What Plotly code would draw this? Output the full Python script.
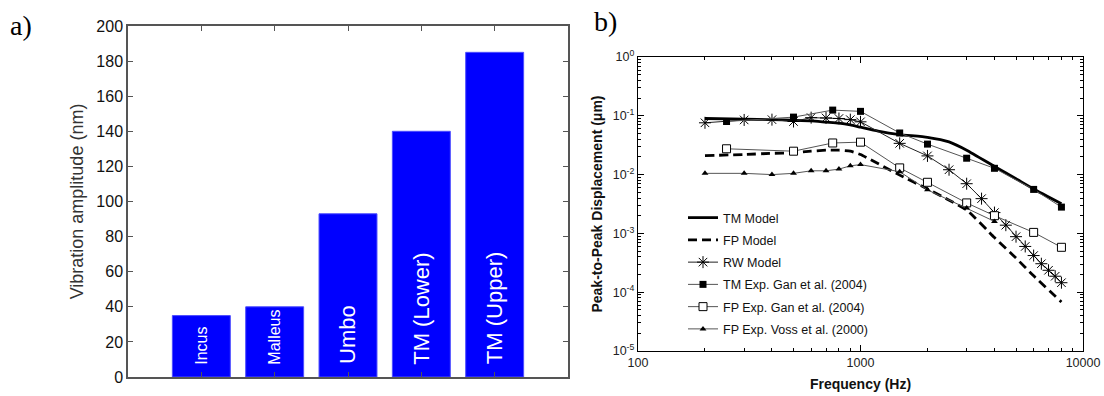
import plotly.graph_objects as go

# ---------------- data: panel a ----------------
categories = ["Incus", "Malleus", "Umbo", "TM (Lower)", "TM (Upper)"]
amplitude_nm = [35, 40, 93, 140, 185]
y_ticks_a = [0, 20, 40, 60, 80, 100, 120, 140, 160, 180, 200]

# ---------------- data: panel b ----------------
freq_tm_model = [200, 300, 400, 500, 600, 700, 800, 900, 1000, 1200, 1500, 2000, 2500, 3000, 4000, 5000, 6000, 8000]
disp_tm_model = [0.090, 0.088, 0.086, 0.084, 0.082, 0.078, 0.075, 0.070, 0.064, 0.055, 0.048, 0.043, 0.036, 0.026, 0.0138, 0.0085, 0.0057, 0.0032]

freq_fp_model = [200, 300, 400, 500, 600, 700, 800, 900, 1000, 1500, 2000, 3000, 4000, 5000, 6000, 8000]
disp_fp_model = [0.021, 0.022, 0.023, 0.0235, 0.025, 0.026, 0.026, 0.025, 0.022, 0.0098, 0.0057, 0.0025, 0.00085, 0.00038, 0.00019, 0.000068]

freq_rw_model = [200, 300, 400, 500, 600, 700, 800, 900, 1000, 1500, 2000, 2500, 3000, 3500, 4000, 4500, 5000, 5500, 6000, 6500, 7000, 7500, 8000]
disp_rw_model = [0.076, 0.085, 0.086, 0.080, 0.093, 0.092, 0.090, 0.086, 0.079, 0.034, 0.0208, 0.0121, 0.0070, 0.0039, 0.00226, 0.00138, 0.00088, 0.00060, 0.00042, 0.000305, 0.000236, 0.000187, 0.000145]

freq_gan = [250, 500, 750, 1000, 1500, 2000, 3000, 4000, 6000, 8000]
disp_tm_gan = [0.080, 0.095, 0.125, 0.119, 0.051, 0.033, 0.019, 0.0128, 0.0056, 0.0028]
disp_fp_gan = [0.0275, 0.025, 0.0345, 0.0356, 0.013, 0.0074, 0.0033, 0.0020, 0.00104, 0.00058]

freq_voss = [200, 300, 400, 500, 600, 700, 800, 900, 1000, 1500, 2000, 3000, 4000]
disp_fp_voss = [0.0105, 0.0105, 0.0100, 0.0105, 0.0116, 0.0116, 0.0124, 0.0141, 0.0148, 0.0112, 0.0055, 0.0027, 0.0016]

y_tick_exponents_b = [-5, -4, -3, -2, -1, 0]
x_ticks_b = [100, 1000, 10000]

# ---------------- figure ----------------
fig = go.Figure()
xpos = list(range(1, len(categories) + 1))

fig.add_trace(go.Bar(
    x=xpos, y=amplitude_nm, width=0.79,
    marker=dict(color="#0000ff", line=dict(color="#4d4dff", width=1)),
    xaxis="x", yaxis="y", showlegend=False, hoverinfo="skip"))

grey = "#555555"
fig.add_trace(go.Scatter(x=freq_tm_model, y=disp_tm_model, name="TM Model", mode="lines",
                         line=dict(color="black", width=2.8, shape="spline", smoothing=0.5),
                         xaxis="x2", yaxis="y2", legendgroup="g1"))
fig.add_trace(go.Scatter(x=freq_fp_model, y=disp_fp_model, name="FP Model", mode="lines",
                         line=dict(color="black", width=2.8, dash="9px,5px", shape="spline", smoothing=0.4),
                         xaxis="x2", yaxis="y2", legendgroup="g2"))
fig.add_trace(go.Scatter(x=freq_rw_model, y=disp_rw_model, name="RW Model", mode="lines+markers",
                         line=dict(color="#222222", width=1),
                         marker=dict(symbol="asterisk-open", size=10, color="black", line=dict(width=1, color="black")),
                         xaxis="x2", yaxis="y2", legendgroup="g3"))
fig.add_trace(go.Scatter(x=freq_gan, y=disp_tm_gan, name="TM Exp. Gan et al. (2004)", mode="lines+markers",
                         line=dict(color=grey, width=1),
                         marker=dict(symbol="square", size=7, color="black"),
                         xaxis="x2", yaxis="y2", legendgroup="g4"))
fig.add_trace(go.Scatter(x=freq_gan, y=disp_fp_gan, name="FP Exp. Gan et al. (2004)", mode="lines+markers",
                         line=dict(color=grey, width=1),
                         marker=dict(symbol="square", size=8, color="white", line=dict(width=1, color="black")),
                         xaxis="x2", yaxis="y2", legendgroup="g5"))
fig.add_trace(go.Scatter(x=freq_voss, y=disp_fp_voss, name="FP Exp. Voss et al. (2000)", mode="lines+markers",
                         line=dict(color=grey, width=1),
                         marker=dict(symbol="triangle-up", size=6, color="black"),
                         xaxis="x2", yaxis="y2", legendgroup="g6"))

annotations = []
for i, (cat, val) in enumerate(zip(categories, amplitude_nm)):
    big = cat not in ("Incus", "Malleus")
    annotations.append(dict(
        x=xpos[i], y=6, xref="x", yref="y", text=cat, showarrow=False,
        textangle=-90, yanchor="bottom", xanchor="center",
        font=dict(family="Liberation Sans, Arial", size=22 if big else 16, color="white")))

annotations.append(dict(x=8 / 1104, y=1 - 8 / 396, xref="paper", yref="paper", text="a)",
                        showarrow=False, xanchor="left", yanchor="top",
                        font=dict(family="Liberation Serif, Times New Roman", size=28, color="black")))
annotations.append(dict(x=592 / 1104, y=1 - 4 / 396, xref="paper", yref="paper", text="b)",
                        showarrow=False, xanchor="left", yanchor="top",
                        font=dict(family="Liberation Serif, Times New Roman", size=28, color="black")))

axis_line = "#555555"
fig.update_layout(
    width=1104, height=396,
    margin=dict(l=0, r=0, t=0, b=0, autoexpand=False),
    paper_bgcolor="white", plot_bgcolor="white",
    font=dict(family="Liberation Sans, Arial", color="#111111"),
    annotations=annotations,
    xaxis=dict(domain=[128 / 1104, 568 / 1104], range=[0, 6], tickvals=xpos, showticklabels=False,
               ticks="inside", ticklen=5, tickcolor=axis_line, showline=True, linecolor=axis_line,
               linewidth=1.5, mirror="ticks", showgrid=False, zeroline=False, anchor="y", fixedrange=True,
               automargin=False),
    yaxis=dict(domain=[1 - 377 / 396, 1 - 26 / 396], range=[0, 200], tickvals=y_ticks_a,
               ticks="inside", ticklen=5, tickcolor=axis_line, showline=True, linecolor=axis_line,
               linewidth=1.5, mirror="ticks", showgrid=False, zeroline=False, anchor="x", automargin=False,
               tickfont=dict(size=16, color="#111111"),
               title=dict(text="Vibration amplitude (nm)", font=dict(size=18, color="#333333"), standoff=8)),
    xaxis2=dict(domain=[638 / 1104, 1083 / 1104], type="log", range=[2, 4], tickvals=x_ticks_b,
                ticktext=[str(v) for v in x_ticks_b], ticks="inside", ticklen=6, tickcolor="black",
                showline=True, linecolor="black", linewidth=1.2, mirror="ticks", showgrid=False,
                zeroline=False, anchor="y2", automargin=False, tickfont=dict(size=12.5, color="#222222"),
                minor=dict(ticks="inside", ticklen=3, tickcolor="black",
                           tickvals=[200, 300, 400, 500, 600, 700, 800, 900, 2000, 3000, 4000, 5000, 6000, 7000, 8000, 9000]),
                title=dict(text="<b>Frequency (Hz)</b>", font=dict(size=14, color="#111111"), standoff=10)),
    yaxis2=dict(domain=[1 - 351 / 396, 1 - 57 / 396], type="log", range=[-5, 0],
                tickvals=[10 ** e for e in y_tick_exponents_b],
                ticktext=["10<sup>%d</sup>" % e for e in y_tick_exponents_b],
                ticks="inside", ticklen=6, tickcolor="black",
                showline=True, linecolor="black", linewidth=1.2, mirror="ticks", showgrid=False,
                zeroline=False, anchor="x2", automargin=False, tickfont=dict(size=12.5, color="#222222"),
                minor=dict(ticks="inside", ticklen=3, tickcolor="black",
                           tickvals=[m * 10 ** e for e in range(-5, 0) for m in range(2, 10)]),
                title=dict(text="<b>Peak-to-Peak Displacement (μm)</b>", font=dict(size=14, color="#111111"), standoff=6)),
    showlegend=True,
    legend=dict(x=683 / 1104, y=1 - 203 / 396, xanchor="left", yanchor="top",
                bgcolor="rgba(0,0,0,0)", font=dict(size=12.5, color="#111111"),
                traceorder="grouped", tracegroupgap=3, itemwidth=30),
)

fig.write_html("out.html", config={"displayModeBar": False},
               post_script="document.body.style.margin='0px';document.body.style.overflow='hidden';")
